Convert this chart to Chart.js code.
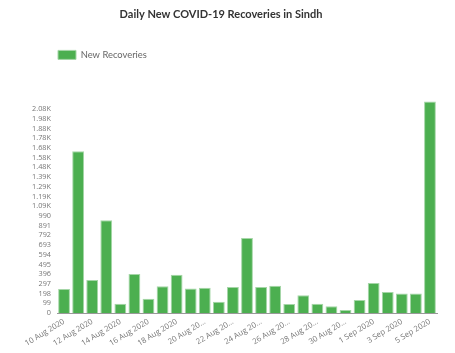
<!DOCTYPE html>
<html><head><meta charset="utf-8">
<script src="https://cdn.jsdelivr.net/npm/chart.js@4"></script>
<style>html,body{margin:0;padding:0;background:#fff}#wrap{width:455px;height:353px;position:relative}</style>
</head><body><div id="wrap"><canvas id="c"></canvas></div>
<script>
const categories = ['10 Aug 2020','11 Aug 2020','12 Aug 2020','13 Aug 2020','14 Aug 2020','15 Aug 2020','16 Aug 2020','17 Aug 2020','18 Aug 2020','19 Aug 2020','20 Aug 2020','21 Aug 2020','22 Aug 2020','23 Aug 2020','24 Aug 2020','25 Aug 2020','26 Aug 2020','27 Aug 2020','28 Aug 2020','29 Aug 2020','30 Aug 2020','31 Aug 2020','1 Sep 2020','2 Sep 2020','3 Sep 2020','4 Sep 2020','5 Sep 2020'];
const recoveries = [245, 1649, 337, 945, 95, 398, 146, 272, 391, 251, 258, 115, 265, 765, 265, 279, 92, 180, 95, 68, 31, 133, 306, 214, 200, 200, 2156];
const xTickLabels = ['10 Aug 2020','','12 Aug 2020','','14 Aug 2020','','16 Aug 2020','','18 Aug 2020','','20 Aug 20...','','22 Aug 20...','','24 Aug 20...','','26 Aug 20...','','28 Aug 20...','','30 Aug 20...','','1 Sep 2020','','3 Sep 2020','','5 Sep 2020'];
const yTickValues = [0,99,198,297,396,495,594,693,792,891,990,1089,1188,1287,1386,1485,1584,1683,1782,1881,1980,2079];
const yTickLabels = ['0','99','198','297','396','495','594','693','792','891','990','1.09K','1.19K','1.29K','1.39K','1.48K','1.58K','1.68K','1.78K','1.88K','1.98K','2.08K'];

const legendShift = {
  id: 'legendShift',
  beforeDraw(chart) { if (chart.legend) { chart.legend.left = 48; } }
};

const chart = new Chart(document.getElementById('c'), {
  type: 'bar',
  data: {
    labels: categories,
    datasets: [{
      label: 'New Recoveries',
      data: recoveries,
      backgroundColor: '#4caf50',
      borderColor: '#a5d6a7',
      borderWidth: 1,
      barPercentage: 0.84,
      categoryPercentage: 1.0
    }]
  },
  options: {
    responsive: true,
    maintainAspectRatio: false,
    animation: false,
    devicePixelRatio: 1,
    layout: { padding: { left: 5, right: 18, top: 0, bottom: 0 } },
    plugins: {
      title: {
        display: true,
        text: 'Daily New COVID-19 Recoveries in Sindh',
        color: '#333',
        font: { family: 'Lato', size: 11, weight: 'bold' },
        padding: { top: 8, bottom: 19 }
      },
      legend: {
        display: true,
        position: 'top',
        align: 'start',
        labels: {
          boxWidth: 18,
          boxHeight: 9,
          padding: 10,
          color: '#666',
          font: { family: 'Lato', size: 9.4 }
        }
      },
      tooltip: { enabled: false }
    },
    scales: {
      x: {
        grid: { display: false, drawTicks: false },
        border: { display: true, color: '#999', width: 1 },
        ticks: {
          autoSkip: false,
          minRotation: 31,
          maxRotation: 31,
          padding: 4,
          color: '#777',
          font: { family: 'Open Sans', size: 7.8 },
          callback: (v, i) => xTickLabels[i]
        },
        afterFit(scale) { scale.height = 40; }
      },
      y: {
        min: 0,
        max: 2180,
        grid: { display: false, drawTicks: false },
        border: { display: false },
        ticks: {
          autoSkip: false,
          padding: 6,
          color: '#777',
          font: { family: 'Open Sans', size: 7.3 },
          callback: (v) => { const i = yTickValues.indexOf(v); return i >= 0 ? yTickLabels[i] : ''; }
        },
        afterBuildTicks(scale) { scale.ticks = yTickValues.map(v => ({ value: v })); },
        afterFit(scale) { scale.width = 52; }
      }
    }
  },
  plugins: [legendShift]
});

// give the legend box extra height so the plot area starts lower, as in the reference
(function(){
  const lg = chart.legend;
  const origFit = lg.fit.bind(lg);
  lg.fit = function(){ origFit(); this.height = 59; };
  chart.update();
})();
</script>
</body></html>
